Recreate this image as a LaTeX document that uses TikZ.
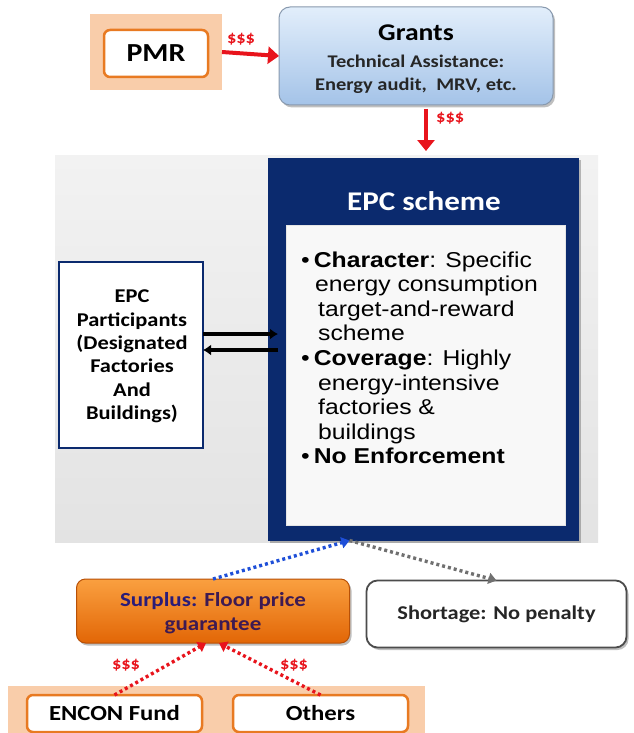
\documentclass[tikz,border=0pt]{standalone}
\usepackage{fontspec}
\setmainfont[FakeStretch=1.15]{Carlito}
\newfontfamily\arialf[FakeStretch=1.15]{Liberation Sans}
\usetikzlibrary{arrows.meta,shadows}
\definecolor{tanc}{HTML}{F9CDAA}
\definecolor{orb}{HTML}{E87A22}
\definecolor{navy}{HTML}{0B2A6E}
\definecolor{redc}{HTML}{E8141C}
\definecolor{gtop}{HTML}{E2EEFB}
\definecolor{gbot}{HTML}{A4C3E8}
\definecolor{gbord}{HTML}{8899AE}
\definecolor{dotblue}{HTML}{1E4FD8}
\definecolor{dotgray}{HTML}{707070}
\definecolor{surtop}{HTML}{FAA040}
\definecolor{surbot}{HTML}{E26606}
\definecolor{surbord}{HTML}{B85006}
\definecolor{purp}{HTML}{2A1C78}
\definecolor{purp2}{HTML}{3E1A52}
\definecolor{bgtop}{HTML}{F2F2F2}
\definecolor{bgbot}{HTML}{E3E3E3}
\definecolor{innerc}{HTML}{F8F8F8}
\begin{document}
\begin{tikzpicture}[x=1pt,y=-1pt,
  plain/.style={inner sep=0pt, outer sep=0pt},
  tanbox/.style={plain, fill=tanc},
  orbox/.style={plain, draw=orb, line width=2.5pt, fill=white, rounded corners=6pt},
  dollars/.style={text=redc, font=\bfseries\fontsize{16}{16}\selectfont, inner sep=0pt},
  redarrow/.style={redc, line width=4pt, -{Triangle[length=11pt,width=17pt]}},
  blackarrow/.style={black, line width=3.2pt, -{Latex[length=8pt,width=11pt]}},
  dotarrow/.style={line width=3.4pt, dash pattern=on 3pt off 3pt, -{Triangle[length=8pt,width=11pt]}},
  bodytext/.style={inner sep=0pt, anchor=base west, font=\arialf\fontsize{21.5}{24.6}\selectfont},
  shadowed/.style={drop shadow={shadow xshift=2pt, shadow yshift=-2.5pt, fill=black, opacity=0.25}}
]
\useasboundingbox (0,0) rectangle (634,733);
\fill[white] (0,0) rectangle (634,733);

% ---- top row
\node[tanbox, minimum width=132pt, minimum height=76pt] (pmrbg) at (156,52) {};
\node[orbox, minimum width=104pt, minimum height=47pt, font=\bfseries\fontsize{26}{28}\selectfont] (pmr) at (156,53.5) {PMR};

\node[plain, shadowed, draw=gbord, line width=1pt, rounded corners=11pt, top color=gtop, bottom color=gbot,
      minimum width=274pt, minimum height=98pt] (grants) at (416,56) {};
\node[plain, font=\bfseries\fontsize{24}{26}\selectfont] (gt1) at (416,33) {Grants};
\node[plain, font=\bfseries\fontsize{17.8}{20}\selectfont, text=black!85] (gt2) at (416,61) {Technical Assistance:};
\node[plain, font=\bfseries\fontsize{17.8}{20}\selectfont, text=black!85] (gt3) at (416,86) {Energy audit,\ \ MRV, etc.};

\draw[redarrow] (pmrbg.east) -- (grants.west);
\node[dollars] (d1) at (241,39) {\$\$\$};

\coordinate (downend) at (426,151);
\draw[redarrow] ([xshift=10pt,yshift=-4pt]grants.south) -- (downend);
\node[dollars, anchor=west] (d2) at (436,118) {\$\$\$};

% ---- middle panel
\node[plain, top color=bgtop, bottom color=bgbot, minimum width=543pt, minimum height=387pt] (bg) at (326.5,349) {};
\node[plain, shadowed, fill=navy, minimum width=311pt, minimum height=383pt] (epc) at (423.5,349) {};
\node[plain, text=white, font=\bfseries\fontsize{27}{30}\selectfont] (epct) at (424,201) {EPC scheme};
\node[plain, fill=innerc, draw=white!80!gray, line width=0.6pt, minimum width=279pt, minimum height=300pt] (inner) at (425.5,375) {};

\node[bodytext] (l1) at (301,267) {•\hspace{4pt}\textbf{Character}: Specific};
\node[bodytext] (l2) at (315,291.6) {energy consumption};
\node[bodytext] (l3) at (318,316.2) {target-and-reward};
\node[bodytext] (l4) at (318,340.8) {scheme};
\node[bodytext] (l5) at (301,365.4) {•\hspace{4pt}\textbf{Coverage}: Highly};
\node[bodytext] (l6) at (318,390) {energy-intensive};
\node[bodytext] (l7) at (318,414.6) {factories \&};
\node[bodytext] (l8) at (318,439.2) {buildings};
\node[bodytext] (l9) at (301,463.8) {•\hspace{4pt}\textbf{No Enforcement}};

\node[plain, draw=navy, line width=2.5pt, fill=white, minimum width=144pt, minimum height=186pt] (part) at (131,355) {};
\node[plain, align=center, font=\bfseries\fontsize{19.5}{23.4}\selectfont] (partt) at (132,356.5)
  {EPC\\Participants\\(Designated\\Factories\\And\\Buildings)};

\draw[blackarrow, shorten >=-10pt] ([yshift=21pt]part.east) -- ([yshift=21pt]part.east -| epc.west);
\draw[blackarrow, shorten <=-10pt] ([yshift=5pt]part.east -| epc.west) -- ([yshift=5pt]part.east);

% ---- bottom
\node[plain, shadowed, draw=surbord, line width=1pt, rounded corners=9pt, top color=surtop, bottom color=surbot,
      minimum width=273pt, minimum height=64pt] (surplus) at (213,611) {};
\node[plain, align=center, font=\bfseries\fontsize{20}{24}\selectfont, text=purp2] (surt) at (213,613)
  {{\color{purp}Surplus:} Floor price\\guarantee};

\node[plain, shadowed, draw=black!70, line width=1.8pt, rounded corners=11pt, fill=white,
      minimum width=260pt, minimum height=67pt] (short) at (496.5,614) {};
\node[plain, font=\bfseries\fontsize{19.5}{22}\selectfont, text=black!85] (shortt) at (496.5,614) {Shortage: No penalty};

\coordinate (epcbot) at ([xshift=-74pt]epc.south);
\draw[dotarrow, dotblue] (surplus.north) -- (epcbot);
\draw[dotarrow, dotgray] (epcbot) -- (short.north);

\node[tanbox, minimum width=417pt, minimum height=50pt] (botbg) at (216.5,711) {};
\node[orbox, minimum width=175pt, minimum height=37pt, font=\bfseries\fontsize{21.5}{23}\selectfont] (encon) at (114.5,713.5) {ENCON Fund};
\node[orbox, minimum width=175pt, minimum height=37pt, font=\bfseries\fontsize{21.5}{23}\selectfont] (others) at (320.5,713.5) {Others};

\draw[dotarrow, redc] (encon.north) -- ([xshift=-7pt]surplus.south);
\draw[dotarrow, redc] (others.north) -- ([xshift=6pt]surplus.south);
\node[dollars] (d3) at (126,665) {\$\$\$};
\node[dollars] (d4) at (294,665) {\$\$\$};
\end{tikzpicture}
\end{document}
